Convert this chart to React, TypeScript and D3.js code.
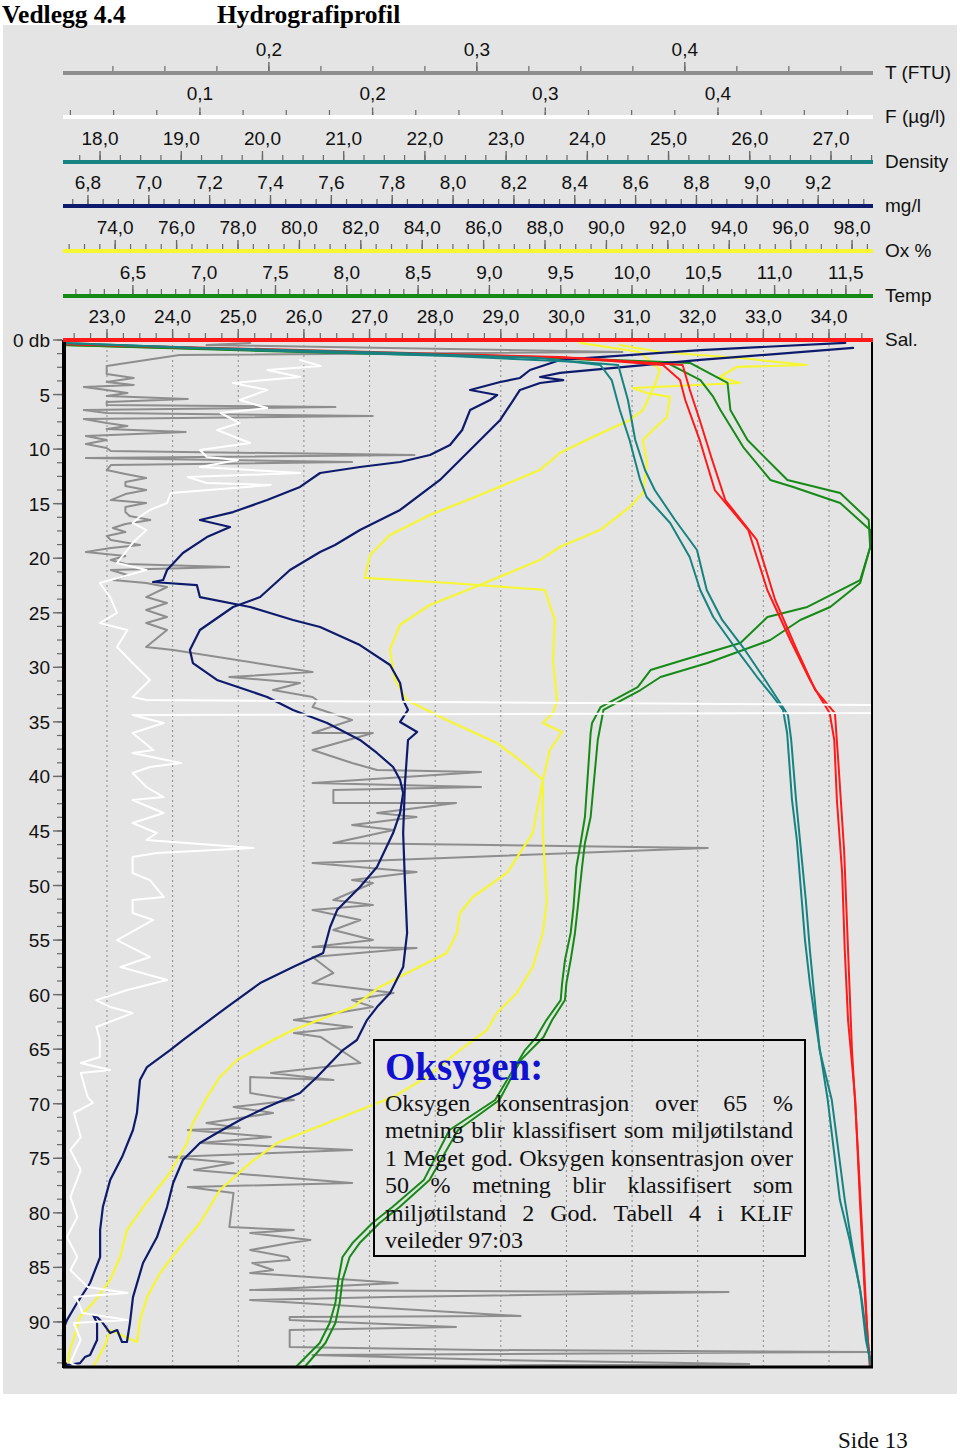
import React from "react";
import * as d3 from "d3";

// ---------------- DATA ----------------
// Axis tick labels (top axes)
const turbTicks = [0.2, 0.3, 0.4];
const fluoTicks = [0.1, 0.2, 0.3, 0.4];
const densTicks = [18, 19, 20, 21, 22, 23, 24, 25, 26, 27];
const mglTicks = [6.8, 7.0, 7.2, 7.4, 7.6, 7.8, 8.0, 8.2, 8.4, 8.6, 8.8, 9.0, 9.2];
const oxTicks = [74, 76, 78, 80, 82, 84, 86, 88, 90, 92, 94, 96, 98];
const tempTicks = [6.5, 7.0, 7.5, 8.0, 8.5, 9.0, 9.5, 10.0, 10.5, 11.0, 11.5];
const salTicks = [23, 24, 25, 26, 27, 28, 29, 30, 31, 32, 33, 34];
const depthTicks = [0, 5, 10, 15, 20, 25, 30, 35, 40, 45, 50, 55, 60, 65, 70, 75, 80, 85, 90];

// Series: [depth (db), value]
const salDown: [number, number][] = [[0.37,22.33],[0.92,25.94],[1.56,29.90],[2.29,31.47],[3.67,31.73],[5.5,31.81],[9.17,32.03],[13.75,32.26],[17.42,32.77],[22.91,33.06],[27.5,33.41],[31.16,33.71],[32.72,33.86],[34.19,34.01],[36.66,34.08],[42.16,34.12],[48.85,34.20],[55.91,34.24],[62.33,34.29],[69.66,34.40],[78.83,34.47],[88.0,34.55],[94.04,34.62]];
const salUp: [number, number][] = [[0.37,22.33],[1.1,26.5],[1.65,30.2],[2.29,31.77],[4.58,31.88],[7.33,32.03],[11.0,32.22],[14.67,32.42],[18.33,32.90],[23.83,33.18],[28.41,33.51],[32.08,33.79],[34.19,34.09],[38.5,34.14],[46.75,34.23],[55.91,34.29],[65.08,34.35],[74.24,34.44],[83.41,34.52],[91.66,34.59],[94.04,34.64]];

const tempDown: [number, number][] = [[0.46,6.01],[0.92,7.32],[1.47,9.07],[2.11,10.25],[3.67,10.48],[5.22,10.57],[6.42,10.62],[9.81,10.78],[12.83,10.97],[13.47,11.13],[14.94,11.46],[17.42,11.67],[18.61,11.68],[22.0,11.60],[24.47,11.23],[25.39,10.95],[27.77,10.76],[29.33,10.36],[30.25,10.13],[31.81,10.04],[33.64,9.78],[35.1,9.72],[36.02,9.71],[43.72,9.67],[46.1,9.64],[48.3,9.61],[51.97,9.59],[54.35,9.57],[56.83,9.53],[58.94,9.51],[60.5,9.50],[62.33,9.40],[63.89,9.33],[65.08,9.25],[69.66,9.04],[72.41,8.72],[77.0,8.54],[79.47,8.32],[80.93,8.18],[82.77,8.04],[84.05,7.97],[86.16,7.94],[88.27,7.92],[90.1,7.88],[91.93,7.81],[94.04,7.65]];
const tempUp: [number, number][] = [[0.46,6.01],[1.1,7.67],[1.65,9.50],[2.11,10.41],[3.94,10.67],[6.42,10.69],[9.17,10.81],[12.83,11.09],[14.02,11.46],[16.5,11.66],[18.97,11.67],[22.27,11.60],[24.47,11.39],[25.66,11.18],[27.5,10.97],[29.61,10.53],[30.89,10.20],[32.08,10.06],[33.91,9.80],[36.66,9.76],[43.72,9.71],[46.1,9.67],[48.3,9.65],[51.97,9.62],[54.35,9.60],[56.83,9.57],[58.94,9.54],[60.5,9.53],[62.33,9.44],[63.89,9.38],[66.0,9.22],[69.66,9.07],[72.41,8.78],[77.0,8.58],[79.47,8.37],[80.93,8.23],[82.77,8.09],[84.05,8.02],[86.16,7.97],[88.27,7.95],[90.1,7.92],[91.93,7.85],[94.04,7.71]];

const densDown: [number, number][] = [[0.27,17.544],[0.73,19.23],[1.19,21.69],[1.65,23.42],[2.29,24.16],[3.67,24.30],[6.42,24.40],[9.17,24.52],[12.83,24.65],[14.39,24.73],[16.77,25.02],[19.89,25.26],[22.91,25.39],[25.39,25.55],[28.41,25.84],[30.89,26.09],[32.72,26.29],[33.91,26.41],[36.02,26.46],[42.16,26.52],[45.83,26.58],[51.33,26.64],[55.0,26.68],[58.94,26.74],[62.05,26.80],[69.66,26.96],[78.83,27.11],[82.49,27.23],[87.08,27.36],[91.66,27.43],[94.13,27.50]];
const densUp: [number, number][] = [[0.27,17.544],[0.92,19.85],[1.47,22.31],[2.02,23.91],[2.29,24.38],[5.5,24.50],[9.17,24.59],[11.92,24.71],[13.75,24.83],[16.5,25.08],[19.25,25.35],[22.91,25.47],[25.66,25.66],[28.41,25.94],[31.16,26.19],[33.0,26.35],[34.37,26.47],[36.66,26.51],[42.16,26.57],[46.75,26.63],[51.33,26.69],[55.91,26.74],[60.5,26.80],[65.08,26.86],[69.66,27.01],[78.83,27.17],[83.41,27.27],[88.0,27.38],[92.57,27.46],[94.13,27.49]];

const oxDown: [number, number][] = [[0.27,89.14],[1.1,91.09],[2.75,91.74],[4.12,91.58],[6.42,91.19],[7.33,90.76],[8.89,89.56],[10.36,88.48],[11.92,87.83],[14.21,85.88],[16.04,84.25],[17.87,82.95],[19.71,82.30],[21.81,82.13],[22.27,84.90],[22.91,87.99],[25.66,88.32],[29.33,88.26],[33.0,88.39],[34.19,88.26],[35.1,87.93],[35.93,88.55],[37.58,88.16],[40.33,87.93],[45.19,87.93],[51.33,88.06],[54.35,87.93],[57.47,87.60],[59.85,87.08],[61.69,86.43],[63.24,86.11],[65.08,85.23],[67.55,84.15],[69.39,83.05],[70.58,81.97],[72.41,80.34],[73.6,79.27],[75.44,78.39],[77.91,77.41],[80.93,76.76],[83.13,76.11],[85.52,75.46],[87.72,75.04],[89.83,74.81],[91.84,74.71],[90.74,73.83],[92.12,73.67],[93.49,73.41],[94.13,73.28]];
const oxUp: [number, number][] = [[0.46,90.44],[1.1,91.74],[1.65,94.35],[2.29,96.53],[2.47,94.25],[3.39,93.69],[3.94,94.35],[4.4,90.86],[4.86,91.32],[5.22,92.07],[7.06,91.97],[8.25,91.51],[9.17,91.19],[11.27,91.32],[14.02,91.19],[15.31,90.76],[17.42,89.79],[18.97,88.48],[20.17,87.83],[22.46,85.88],[24.29,84.25],[26.12,83.27],[28.41,82.95],[31.16,83.11],[33.0,83.50],[34.83,84.80],[36.94,86.43],[38.5,87.18],[40.33,87.93],[45.19,87.60],[48.85,86.76],[51.05,85.65],[52.52,85.23],[54.35,85.13],[56.19,84.80],[57.74,83.70],[59.3,82.62],[61.14,81.74],[63.24,79.79],[64.16,79.14],[66.0,77.97],[67.55,77.41],[69.39,76.99],[71.77,76.53],[73.6,76.34],[76.35,75.78],[79.47,74.91],[81.58,74.38],[84.05,74.16],[86.16,73.83],[88.27,73.28],[89.55,72.85],[90.47,72.76],[92.57,72.53],[94.13,72.43]];

const mglDown: [number, number][] = [[0.27,9.289],[0.92,8.812],[1.83,8.352],[2.75,8.253],[3.48,8.220],[3.85,8.155],[4.58,8.056],[5.04,8.145],[5.5,8.122],[6.42,8.056],[8.25,8.030],[9.62,7.990],[10.54,7.924],[11.18,7.826],[11.64,7.694],[12.19,7.563],[13.47,7.497],[14.67,7.389],[15.77,7.277],[16.5,7.168],[17.14,7.267],[18.06,7.191],[19.52,7.112],[21.08,7.060],[22.0,7.047],[22.18,7.014],[22.46,7.158],[23.56,7.168],[24.47,7.333],[25.66,7.474],[26.31,7.563],[27.96,7.694],[29.79,7.793],[31.44,7.826],[33.0,7.836],[33.91,7.852],[35.01,7.826],[35.93,7.882],[36.66,7.852],[40.6,7.842],[45.19,7.836],[49.77,7.842],[54.35,7.849],[57.47,7.836],[59.85,7.793],[61.14,7.750],[62.33,7.717],[64.16,7.684],[65.08,7.638],[67.55,7.553],[69.02,7.497],[70.3,7.389],[71.49,7.300],[72.69,7.224],[73.6,7.168],[75.16,7.112],[77.27,7.080],[79.47,7.060],[82.22,7.027],[84.6,6.981],[87.72,6.948],[90.1,6.938],[91.84,6.928],[91.84,6.912],[90.74,6.896],[91.02,6.873],[90.1,6.849],[89.55,6.830],[89.37,6.817],[90.1,6.830],[91.66,6.830],[93.03,6.807],[93.22,6.790],[93.77,6.774],[93.95,6.731],[93.49,6.718]];
const mglUp: [number, number][] = [[0.73,9.315],[1.83,8.812],[3.02,8.352],[3.39,8.286],[3.67,8.362],[3.94,8.286],[4.58,8.220],[7.33,8.155],[10.08,8.056],[12.83,7.957],[15.58,7.826],[17.42,7.694],[18.79,7.612],[19.43,7.563],[21.08,7.464],[23.56,7.366],[24.47,7.277],[26.58,7.168],[28.41,7.135],[29.61,7.145],[31.16,7.224],[32.72,7.389],[33.91,7.474],[35.1,7.586],[36.66,7.694],[37.85,7.750],[39.14,7.803],[40.33,7.826],[41.52,7.836],[43.35,7.826],[45.19,7.803],[48.3,7.750],[50.14,7.694],[52.25,7.619],[53.8,7.596],[56.19,7.573],[57.47,7.474],[58.94,7.366],[61.14,7.257],[64.16,7.112],[65.08,7.070],[66.64,6.994],[67.83,6.971],[70.85,6.961],[72.41,6.948],[74.89,6.912],[77.0,6.873],[79.47,6.849],[81.58,6.840],[84.05,6.840],[86.43,6.807],[88.27,6.764],[89.83,6.731],[90.74,6.718],[92.57,6.718],[93.95,6.718]];

const turbidity: [number, number][] = [[0.27,0.191],[0.46,0.170],[1.10,0.370],[1.37,0.157],[1.83,0.141],[2.38,0.122],[3.12,0.122],[3.48,0.135],[3.85,0.122],[4.12,0.135],[4.31,0.111],[4.58,0.122],[4.86,0.132],[5.13,0.122],[5.41,0.161],[5.68,0.122],[5.96,0.122],[6.14,0.232],[6.42,0.111],[6.69,0.122],[6.97,0.250],[7.24,0.111],[7.61,0.122],[7.88,0.132],[8.16,0.122],[8.43,0.160],[8.80,0.112],[9.17,0.122],[9.53,0.112],[9.90,0.122],[10.17,0.124],[10.54,0.270],[10.82,0.112],[11.18,0.240],[11.46,0.124],[11.92,0.122],[12.28,0.131],[12.65,0.141],[13.02,0.131],[13.38,0.131],[13.75,0.141],[14.12,0.131],[14.67,0.124],[14.94,0.141],[15.31,0.131],[15.77,0.131],[16.13,0.133],[16.50,0.143],[16.87,0.131],[17.23,0.125],[17.60,0.131],[17.96,0.122],[18.33,0.124],[18.79,0.138],[19.06,0.124],[19.43,0.112],[19.80,0.131],[20.17,0.124],[20.53,0.131],[20.81,0.181],[21.08,0.124],[21.54,0.132],[22.00,0.125],[22.27,0.141],[22.64,0.151],[23.56,0.141],[24.11,0.151],[24.75,0.141],[25.39,0.151],[25.94,0.141],[26.58,0.151],[28.14,0.141],[28.41,0.154],[30.43,0.221],[30.89,0.181],[31.44,0.215],[32.08,0.202],[32.72,0.221],[33.00,0.223],[33.64,0.221],[34.83,0.240],[36.02,0.221],[36.02,0.250],[37.58,0.221],[38.77,0.240],[39.41,0.252],[39.60,0.302],[40.60,0.221],[40.97,0.302],[41.25,0.231],[42.44,0.231],[42.44,0.290],[43.35,0.252],[43.72,0.271],[44.45,0.240],[44.91,0.260],[46.10,0.231],[46.56,0.411],[47.94,0.221],[48.76,0.271],[49.50,0.240],[49.77,0.250],[51.33,0.231],[51.79,0.250],[52.25,0.221],[53.16,0.244],[54.08,0.231],[55.00,0.250],[55.64,0.221],[55.73,0.271],[56.55,0.221],[58.02,0.231],[58.94,0.221],[59.85,0.260],[60.50,0.240],[61.14,0.250],[62.33,0.212],[62.97,0.240],[63.52,0.212],[63.89,0.225],[66.27,0.244],[67.18,0.201],[67.83,0.231],[67.55,0.191],[69.02,0.191],[69.66,0.212],[70.30,0.183],[70.85,0.202],[71.77,0.170],[72.23,0.186],[72.41,0.161],[73.05,0.201],[73.60,0.167],[74.24,0.240],[74.89,0.152],[75.43,0.183],[76.08,0.164],[77.27,0.240],[77.63,0.161],[78.18,0.183],[81.30,0.181],[81.58,0.212],[81.85,0.191],[82.49,0.220],[82.77,0.210],[83.41,0.191],[84.05,0.209],[84.33,0.210],[84.60,0.192],[85.24,0.202],[85.52,0.191],[86.43,0.262],[87.08,0.191],[87.26,0.421],[87.72,0.257],[88.00,0.191],[89.46,0.321],[89.55,0.210],[89.83,0.210],[90.47,0.290],[90.74,0.210],[91.02,0.210],[92.30,0.210],[92.57,0.302],[92.76,0.489],[93.03,0.221],[93.49,0.311],[93.86,0.431],[94.04,0.221],[94.04,0.370],[94.13,0.221]];

const fluorescence: [number, number][] = [[1.83,0.158],[2.38,0.170],[2.75,0.139],[3.39,0.158],[3.94,0.119],[4.58,0.139],[5.50,0.123],[6.23,0.139],[6.69,0.112],[7.61,0.123],[8.25,0.110],[9.44,0.129],[10.08,0.100],[10.72,0.104],[11.00,0.122],[11.64,0.100],[12.19,0.158],[12.56,0.093],[13.11,0.104],[13.29,0.141],[14.02,0.083],[14.94,0.081],[15.58,0.071],[16.22,0.065],[16.77,0.061],[17.42,0.069],[18.61,0.061],[20.44,0.052],[21.08,0.069],[22.27,0.042],[23.56,0.048],[25.02,0.052],[25.94,0.042],[26.58,0.058],[28.14,0.052],[29.61,0.061],[31.16,0.071],[32.72,0.061],[33.00,0.069],[33.46,0.489],[34.19,0.489],[34.37,0.061],[35.10,0.079],[36.02,0.061],[37.58,0.073],[37.85,0.061],[38.77,0.089],[39.14,0.071],[39.69,0.061],[40.97,0.069],[41.89,0.079],[42.16,0.061],[43.35,0.079],[44.27,0.061],[45.19,0.075],[45.83,0.069],[46.56,0.131],[47.02,0.075],[47.39,0.061],[48.85,0.061],[49.50,0.071],[51.05,0.079],[51.33,0.061],[52.52,0.061],[53.16,0.073],[55.00,0.052],[56.55,0.071],[57.47,0.054],[58.66,0.081],[59.58,0.058],[60.50,0.040],[61.14,0.048],[61.69,0.061],[62.97,0.040],[64.16,0.042],[65.72,0.042],[66.27,0.031],[66.91,0.048],[67.18,0.031],[69.39,0.035],[69.93,0.038],[70.85,0.027],[73.05,0.031],[74.24,0.025],[76.08,0.031],[78.55,0.025],[80.38,0.029],[82.22,0.023],[84.05,0.029],[85.24,0.025],[86.80,0.035],[87.35,0.058],[87.72,0.027],[88.00,0.029],[89.18,0.032],[89.83,0.058],[90.10,0.027],[91.66,0.031],[92.30,0.029],[93.77,0.025],[94.04,0.029]];

const boxTitle = "Oksygen:";
const boxLines = [
  "Oksygen konsentrasjon over 65 %",
  "metning blir klassifisert som miljøtilstand",
  "1 Meget god. Oksygen konsentrasjon over",
  "50 % metning blir klassifisert som",
  "miljøtilstand 2 God. Tabell 4 i KLIF",
  "veileder 97:03",
];

// ---------------- LAYOUT ----------------
const X0 = 63, X1 = 872, Y0 = 340, Y1 = 1367;
const SANS = "'Liberation Sans', Arial, sans-serif";
const SERIF = "'Liberation Serif', 'Times New Roman', serif";
const C = {
  gray: "#8e8e8e", white: "#ffffff", teal: "#178282", navy: "#0e1b6c",
  yellow: "#f6f632", green: "#168a16", red: "#ff1a1a", tick: "#6a6a6a",
};

const axes = [
  { key: "T", label: "T (FTU)", domain: [0.101, 0.49], ticks: turbTicks, minor: 0.025, y: 73, color: C.gray },
  { key: "F", label: "F (µg/l)", domain: [0.0207, 0.4892], ticks: fluoTicks, minor: 0.025, y: 117, color: C.white },
  { key: "D", label: "Density", domain: [17.544, 27.505], ticks: densTicks, minor: 0.25, y: 162, color: C.teal },
  { key: "M", label: "mg/l", domain: [6.718, 9.377], ticks: mglTicks, minor: 0.05, y: 206, color: C.navy },
  { key: "O", label: "Ox %", domain: [72.3, 98.65], ticks: oxTicks, minor: 0.5, y: 251, color: C.yellow },
  { key: "Te", label: "Temp", domain: [6.01, 11.683], ticks: tempTicks, minor: 0.1, y: 296, color: C.green },
  { key: "S", label: "Sal.", domain: [22.33, 34.655], ticks: salTicks, minor: 0.25, y: 340, color: C.red },
];

const fmt = (v: number) => v.toFixed(1).replace(".", ",");

let _ctx: CanvasRenderingContext2D | null = null;
function measure(text: string, font: string) {
  if (!_ctx) _ctx = document.createElement("canvas").getContext("2d");
  if (!_ctx) return text.length * 10;
  _ctx.font = font;
  return _ctx.measureText(text).width;
}

export default function App() {
  const ys = d3.scaleLinear().domain([0, 94.13]).range([Y0, Y1]);
  const sc: Record<string, d3.ScaleLinear<number, number>> = {};
  axes.forEach((a) => (sc[a.key] = d3.scaleLinear().domain(a.domain as [number, number]).range([X0, X1])));

  const path = (key: string, data: [number, number][]) =>
    d3.line<[number, number]>().x((d) => sc[key](d[1])).y((d) => ys(d[0]))(data) || "";

  const series = [
    { key: "T", data: turbidity, color: C.gray, w: 2 },
    { key: "O", data: oxDown, color: C.yellow, w: 2.2 },
    { key: "O", data: oxUp, color: C.yellow, w: 2.2 },
    { key: "Te", data: tempDown, color: C.green, w: 2 },
    { key: "Te", data: tempUp, color: C.green, w: 2 },
    { key: "M", data: mglDown, color: C.navy, w: 2.2 },
    { key: "M", data: mglUp, color: C.navy, w: 2.2 },
    { key: "S", data: salDown, color: C.red, w: 2 },
    { key: "S", data: salUp, color: C.red, w: 2 },
    { key: "D", data: densDown, color: C.teal, w: 2 },
    { key: "D", data: densUp, color: C.teal, w: 2 },
    { key: "F", data: fluorescence, color: C.white, w: 2 },
  ];

  const minorTicks = (a: typeof axes[0]) => {
    const s = Math.ceil(a.domain[0] / a.minor - 1e-6);
    const e = Math.floor(a.domain[1] / a.minor + 1e-6);
    return d3.range(s, e + 1).map((i) => +(i * a.minor).toFixed(4));
  };

  const depthMinor = d3.range(0, 94, 1.25);

  const bodySize = 24;
  const bodyFont = `${bodySize}px 'Liberation Serif', 'Times New Roman', serif`;
  const bx0 = 385, bx1 = 793;
  const lineY = (i: number) => 1111 + i * 27.4;

  return (
    <svg width={960} height={1455} style={{ position: "absolute", left: 0, top: 0, background: "#fff" }}>
      <rect x={0} y={0} width={960} height={1455} fill="#fff" />
      <rect x={3} y={25} width={954} height={1369} fill="#e4e4e4" />
      <text x={2} y={23} fontFamily={SERIF} fontWeight="bold" fontSize={25.5} fill="#000">Vedlegg 4.4</text>
      <text x={217} y={23} fontFamily={SERIF} fontWeight="bold" fontSize={25.5} fill="#000">Hydrografiprofil</text>

      {/* grid */}
      {salTicks.map((t) => (
        <line key={"g" + t} x1={sc.S(t)} x2={sc.S(t)} y1={Y0} y2={Y1} stroke="#8a8a8a" strokeWidth={1} strokeDasharray="2,3" />
      ))}

      {/* series */}
      <g fill="none" strokeLinejoin="round" strokeLinecap="round">
        {series.map((s, i) => (
          <path key={i} d={path(s.key, s.data)} stroke={s.color} strokeWidth={s.w} />
        ))}
      </g>

      {/* top axes */}
      {axes.map((a) => {
        const s = sc[a.key];
        return (
          <g key={a.key}>
            {minorTicks(a).map((t, i) => (
              <line key={i} x1={s(t)} x2={s(t)} y1={a.y - 2} y2={a.y - 7} stroke={C.tick} strokeWidth={1.2} />
            ))}
            {a.ticks.map((t) => (
              <line key={"M" + t} x1={s(t)} x2={s(t)} y1={a.y - 2} y2={a.y - 11} stroke={C.tick} strokeWidth={1.4}
                strokeDasharray={a.key === "F" ? "3,1.5" : undefined} />
            ))}
            <line x1={X0} x2={X1 + 1} y1={a.y} y2={a.y} stroke={a.color} strokeWidth={4} />
            {a.ticks.map((t) => (
              <text key={"L" + t} x={s(t)} y={a.y - 17} textAnchor="middle" fontFamily={SANS} fontSize={19} fill="#111">
                {fmt(t)}
              </text>
            ))}
            <text x={885} y={a.y + 6} fontFamily={SANS} fontSize={19} fill="#111">{a.label}</text>
          </g>
        );
      })}

      {/* frame */}
      <line x1={X1} x2={X1} y1={Y0} y2={Y1} stroke="#000" strokeWidth={2} />
      <line x1={X0} x2={X1 + 1} y1={Y1} y2={Y1} stroke="#000" strokeWidth={3} />
      <line x1={X0 + 1} x2={X0 + 1} y1={Y0} y2={Y1 + 1} stroke="#000" strokeWidth={4} />
      <line x1={X0} x2={X1 + 1} y1={Y0} y2={Y0} stroke={C.red} strokeWidth={4} />

      {/* depth axis */}
      {depthMinor.map((d, i) => (
        <line key={"dm" + i} x1={57} x2={62} y1={ys(d)} y2={ys(d)} stroke={C.tick} strokeWidth={1.2} />
      ))}
      {depthTicks.map((d) => (
        <g key={"d" + d}>
          <line x1={53} x2={62} y1={ys(d)} y2={ys(d)} stroke={C.tick} strokeWidth={1.4} />
          <text x={50} y={ys(d) + 7} textAnchor="end" fontFamily={SANS} fontSize={19} fill="#111">
            {d === 0 ? "0 db" : String(d)}
          </text>
        </g>
      ))}

      {/* text box */}
      <rect x={374} y={1040} width={431} height={216} fill="none" stroke="#000" strokeWidth={2} />
      <text x={385} y={1080} fontFamily={SERIF} fontWeight="bold" fontSize={39} fill="#1111d0">{boxTitle}</text>
      {boxLines.map((ln, i) => {
        const words = ln.split(" ");
        if (i === boxLines.length - 1) {
          return <text key={i} x={bx0} y={lineY(i)} fontFamily={SERIF} fontSize={bodySize} fill="#111">{ln}</text>;
        }
        const widths = words.map((w) => measure(w, bodyFont));
        const total = widths.reduce((a, b) => a + b, 0);
        const gap = (bx1 - bx0 - total) / (words.length - 1);
        let x = bx0;
        return (
          <g key={i}>
            {words.map((w, j) => {
              const el = <text key={j} x={x} y={lineY(i)} fontFamily={SERIF} fontSize={bodySize} fill="#111">{w}</text>;
              x += widths[j] + gap;
              return el;
            })}
          </g>
        );
      })}

      <text x={838} y={1448} fontFamily={SERIF} fontSize={23} fill="#111">Side 13</text>
    </svg>
  );
}
